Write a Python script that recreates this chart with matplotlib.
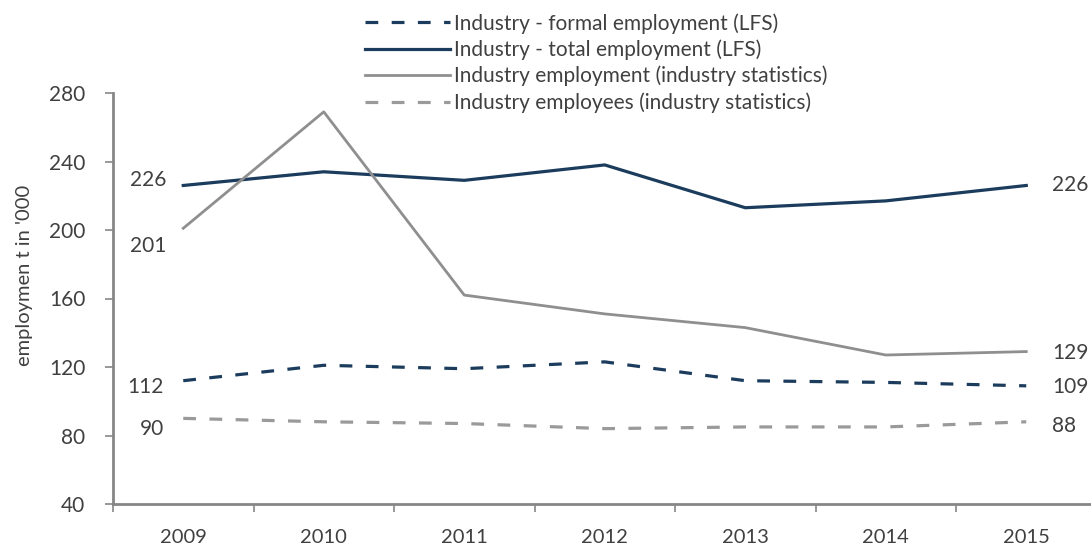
import matplotlib
matplotlib.use("Agg")
import matplotlib.pyplot as plt

plt.rcParams['font.family'] = ['Lato', 'DejaVu Sans']

years = ["2009", "2010", "2011", "2012", "2013", "2014", "2015"]
formal_lfs = [112, 121, 119, 123, 112, 111, 109]
total_lfs = [226, 234, 229, 238, 213, 217, 226]
ind_employment = [201, 269, 162, 151, 143, 127, 129]
ind_employees = [90, 88, 87, 84, 85, 85, 88]

names = ["Industry - formal employment (LFS)",
         "Industry - total employment (LFS)",
         "Industry employment (industry statistics)",
         "Industry employees (industry statistics)"]

BLUE = "#1B3C5C"
GRAY = "#8F8F8F"
GRAY2 = "#9A9A9A"
TXT = "#404040"
AX = "#868686"

W, H = 1091, 546
fig = plt.figure(figsize=(W / 100, H / 100), dpi=100)
left = 113 / W
bottom = 1 - 504 / H
top = 1 - 93 / H
unit = 140.5  # px per category
ax = fig.add_axes([left, bottom, 7 * unit / W, top - bottom])

x = list(range(len(years)))
l1, = ax.plot(x, formal_lfs, color=BLUE, lw=2.3, dashes=(4, 4.2), dash_capstyle='butt')
l2, = ax.plot(x, total_lfs, color=BLUE, lw=2.3)
l3, = ax.plot(x, ind_employment, color=GRAY, lw=2.0)
l4, = ax.plot(x, ind_employees, color=GRAY2, lw=2.3, dashes=(4, 4.2), dash_capstyle='butt')

ax.set_xlim(-0.5, 6.5)
ax.set_ylim(40, 280)
ax.set_yticks(range(40, 281, 40))
ax.set_xticks([i - 0.5 for i in range(8)], minor=False)
ax.set_xticklabels([])
ax.set_xticks(x, minor=True)
ax.set_xticklabels(years, minor=True)
ax.tick_params(axis='x', which='major', length=6, width=1.2, color=AX, direction='out')
ax.tick_params(axis='x', which='minor', length=0, pad=18, labelsize=14.5, labelcolor=TXT)
ax.tick_params(axis='y', length=6, width=1.2, color=AX, direction='out', pad=14,
               labelsize=15, labelcolor=TXT)
for s in ['top', 'right']:
    ax.spines[s].set_visible(False)
for s in ['left', 'bottom']:
    ax.spines[s].set_color(AX)
    ax.spines[s].set_linewidth(2)

ax.set_ylabel("employmen t in '000", fontsize=14.5, color=TXT)
ax.yaxis.set_label_coords(-(113 - 33) / (7 * unit), 0.5 - ((275 - (93 + 504) / 2) / (504 - 93)))

# data labels
def lab(xi, yi, dx, dy, ha):
    ax.annotate(str(yi), (xi, yi), xytext=(dx * 0.72, -dy * 0.72), textcoords='offset points',
                ha=ha, va='center', fontsize=15, color=TXT)

lab(0, total_lfs[0], -17, -5, 'right')
lab(0, ind_employment[0], -17, 18, 'right')
lab(0, formal_lfs[0], -20, 6, 'right')
lab(0, ind_employees[0], -19, 11, 'right')
lab(6, total_lfs[6], 26, 0, 'left')
lab(6, ind_employment[6], 26, 1, 'left')
lab(6, formal_lfs[6], 26, 1, 'left')
lab(6, ind_employees[6], 26, 4, 'left')

fig.legend([l1, l2, l3, l4], names, loc='upper left',
           bbox_to_anchor=(365 / W, 1 - 13 / H), frameon=False, fontsize=15,
           handlelength=4.1, handletextpad=0.15, labelspacing=0.28,
           borderpad=0, borderaxespad=0, labelcolor=TXT)

fig.savefig("out.png", dpi=100)
